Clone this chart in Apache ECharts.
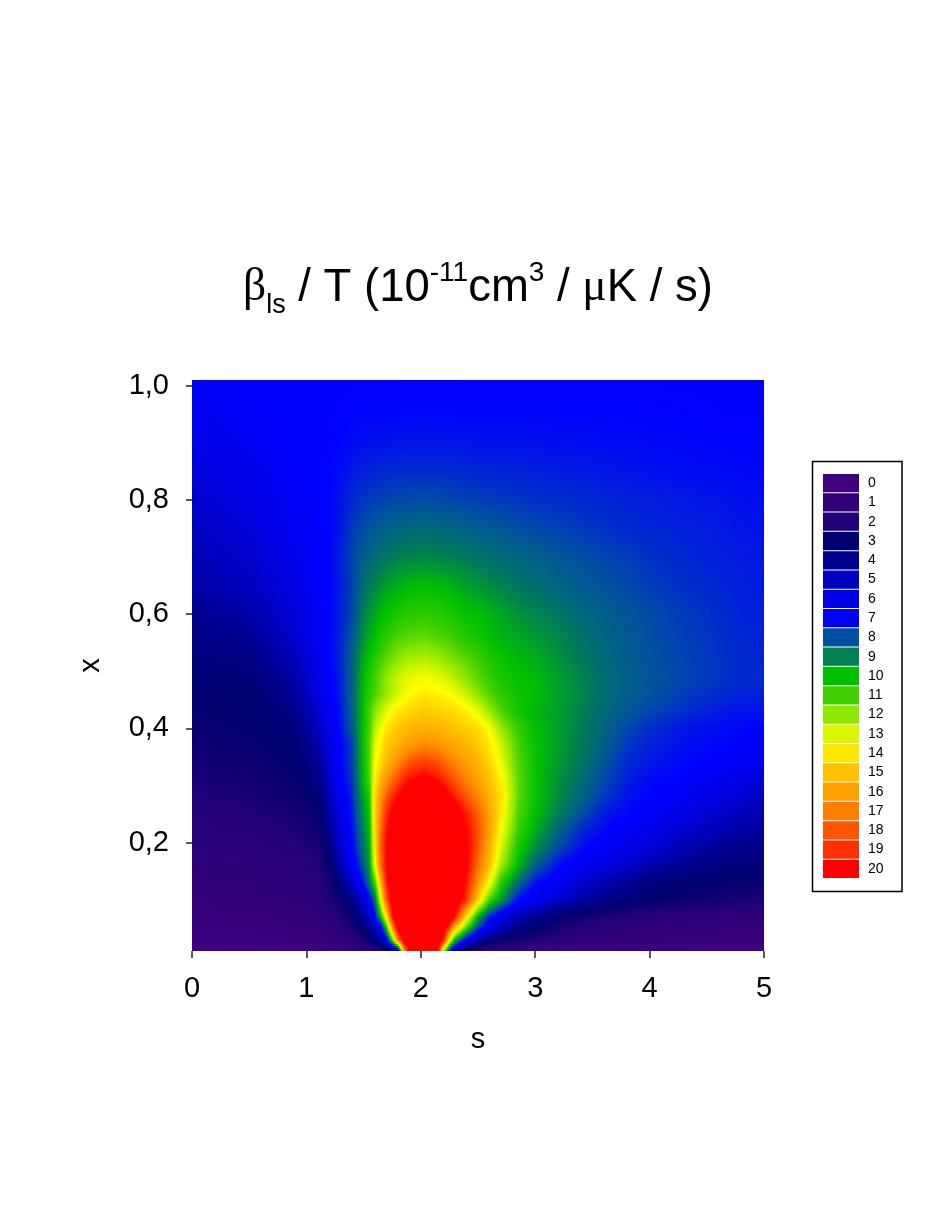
<!DOCTYPE html>
<html><head><meta charset="utf-8">
<style>html,body{margin:0;padding:0;background:#fff}#c{width:942px;height:1214px}</style>
<script src="https://cdn.jsdelivr.net/npm/echarts@6/dist/echarts.min.js"></script>
</head><body><div id="c"></div>
<script>
// s positions of the samples, x positions of the rows
const sValues=[0,.5,.9,1.1,1.2,1.3,1.4,1.5,1.55,1.6,1.65,1.7,1.75,1.8,1.85,1.9,2.03,2.15,2.2,2.25,2.3,2.4,2.5,2.6,2.7,2.85,3,3.2,3.4,3.6,3.8,4,4.25,4.5,4.75,5];
const xValues=[.01,.03,.05,.07,.1,.13,.16,.19,.22,.25,.28,.31,.34,.37,.4,.43,.46,.49,.52,.56,.6,.65,.7,.75,.8,.85,.9,.95,1.01];
const z001=[0,.05,.1,.2,.3,.4,.6,.9,1.1,1.4,1.7,2.2,3,5,15.5,20.5,22,20.3,12.5,7.5,4.5,2.5,1.6,1,.8,.5,.3,.2,.1,.1,.1,.1,.1,.1,.1,.1];
const z003=[.3,.35,.5,.6,.8,1.1,1.5,2.3,2.9,3.6,4.8,6.5,11,17,21,23,24,22,19.5,13.7,10,6.5,4.6,3.6,3,2.4,2,1.5,1.2,1,.9,.8,.7,.6,.55,.5];
const z005=[.45,.5,.7,.9,1.2,1.6,2.2,3.2,4,5,6.3,10.5,16,21,23,25,26,24,21,18.5,15,11,7.8,6,4.9,3.8,3.1,2.3,1.9,1.5,1.3,1.2,1.1,1,.9,.85];
const z007=[.6,.65,.9,1.2,1.5,2,2.8,4.1,5.3,6.8,10,14,19.5,22.5,24.5,26,27,25.5,24,22,19.6,14,9.8,7.3,6,4.7,3.9,3,2.5,2.1,1.8,1.6,1.45,1.3,1.2,1.15];
const z010=[.8,.9,1.2,1.6,2,2.7,3.8,5.5,6.8,8.6,13.3,18,21,23,25,26.5,28,27,25.5,24,22,18.8,14.5,11,9.4,7,6.3,5.2,4.5,3.9,3.4,3.05,2.7,2.5,2.3,2.2];
const z013=[1,1.1,1.4,1.6,2.3,3.7,5.3,7.3,8.8,11,15.5,19.5,21.5,23.5,25,27,29,27.5,26,25,23,19.7,16.5,13.6,10.7,8.6,7.2,6.6,5.4,4.7,4.1,3.6,3.2,3,2.85,2.75];
const z016=[1.2,1.3,1.65,1.9,2.9,4.7,6.4,8.3,9.5,13.5,17.5,20,21.5,23,24.5,26,28,27,26,24.5,23,20.2,17.5,15,12.3,10,8.3,7.2,6.5,5.9,5.3,4.7,4.1,3.7,3.4,3.2];
const z019=[1.4,1.6,1.9,2.2,3.5,5.3,6.9,8.7,9.8,14,17.8,20,21.5,23,24.5,26,28,27,26,24.5,23,20.3,18,15.6,13,10.4,9.2,7.9,7.2,6.6,6.1,5.5,4.8,4.3,3.9,3.7];
const z022=[1.6,1.8,2.1,2.5,4,5.7,7.1,9,10,14.3,17.6,19.7,21,22.5,23.8,25,27,26,25,23.8,22.5,20,18.2,16,13.5,10.9,9.7,8.4,7.5,7.1,6.5,6.1,5.4,4.9,4.5,4.2];
const z025=[1.8,2,2.3,2.8,4.4,6,7.3,9.3,10.2,14.5,17,19.1,20.4,21.7,22.8,23.7,25,24.3,23.5,22.5,21.5,19.4,17.8,15.9,14,11.2,10,9,8,7.3,7.1,6.6,6.1,5.4,5,4.6];
const z028=[2,2.2,2.6,3.2,4.8,6.4,7.5,9.6,10.5,14.4,16.3,18,19.1,20,20.8,21.7,23,22,21.2,20.2,19.4,18,16.8,15.5,14.2,11.4,10.1,9.2,8.4,7.7,7.2,7.05,6.6,6,5.5,5];
const z031=[2.2,2.4,2.8,3.7,5.2,6.8,7.7,10,11,13.8,15.3,16.5,17.5,18.3,19.2,19.8,20.5,19.8,19.2,18.5,17.9,16.9,15.9,15,13.8,11.4,10.1,9.3,8.6,7.9,7.4,7.1,7.03,6.5,6.1,5.5];
const z034=[2.4,2.6,3,4,5.5,7,7.8,10.1,11.2,13.5,14.3,15.3,16,16.7,17.5,18.1,18.7,18.2,17.7,17.2,16.8,16,15.4,14.5,13.3,11.3,10.1,9.4,8.8,8.1,7.5,7.3,7.1,7,6.6,6];
const z037=[2.6,2.8,3.2,4.5,5.8,7,7.8,10.2,11.2,13.1,13.8,14.7,15.1,15.4,15.8,16.1,16.6,16.4,16.2,16,15.8,15.3,14.8,14,12.8,11.1,10.1,9.5,8.9,8.3,7.7,7.4,7.2,7.1,7,6.5];
const z040=[2.7,2.9,3.4,5,6.2,7.2,8.2,10.2,11,12.5,13.3,14,14.4,14.8,15,15.2,15.5,15.4,15.2,15.1,14.9,14.6,14.3,13.4,12.1,10.8,10,9.5,8.9,8.4,7.9,7.6,7.3,7.15,7.12,6.95];
const z043=[2.85,2.95,3.8,5.4,6.5,7.3,8.3,10.1,11,11.9,12.5,13.1,13.6,14,14.2,14.4,14.7,14.5,14.4,14.3,14.2,13.8,13.2,12.1,11.2,10.3,9.8,9.5,9,8.5,8.15,7.9,7.6,7.4,7.25,7.2];
const z046=[3,3,4.2,5.7,6.7,7.4,8.4,10,10.6,11.1,11.6,12.1,12.5,12.9,13.2,13.55,14,13.8,13.7,13.6,13.3,12.7,11.9,11.2,10.7,10.2,10,9.5,9.1,8.6,8.3,8.05,7.8,7.6,7.45,7.4];
const z049=[3.2,3.3,4.5,6,6.85,7.4,8.4,9.9,10.4,11,11.5,12,12.4,12.7,13,13.1,13.3,13.1,12.9,12.7,12.4,11.9,11.3,10.8,10.3,10.1,9.9,9.5,9.05,8.6,8.3,8.1,7.9,7.7,7.55,7.5];
const z052=[3.4,3.6,4.8,6.2,7,7.5,8.3,9.7,10.1,10.6,11,11.4,11.7,12,12.2,12.4,12.5,12.3,12.1,11.9,11.7,11.3,10.9,10.5,10.2,9.9,9.7,9.3,8.9,8.5,8.25,8.05,7.85,7.7,7.55,7.45];
const z056=[3.7,4.1,5.3,6.5,7,7.45,8.1,9.3,9.7,10,10.4,10.6,10.9,11.1,11.2,11.3,11.4,11.2,11.1,11,10.8,10.5,10.3,10,9.8,9.6,9.4,9.1,8.7,8.4,8.2,8,7.8,7.65,7.5,7.4];
const z060=[4,4.5,5.6,6.6,7,7.4,7.9,9,9.3,9.6,9.9,10.1,10.2,10.4,10.5,10.6,10.7,10.6,10.5,10.4,10.3,10.1,10,9.8,9.6,9.3,9.1,8.8,8.5,8.3,8.1,7.95,7.75,7.6,7.45,7.35];
const z065=[4.4,5,5.9,6.8,7,7.35,7.8,8.6,8.9,9.1,9.3,9.5,9.6,9.7,9.8,9.9,10,9.9,9.85,9.8,9.7,9.5,9.35,9.2,9.05,8.8,8.6,8.4,8.2,8.05,7.9,7.75,7.6,7.5,7.4,7.3];
const z070=[4.7,5.3,6.2,6.95,7,7.4,7.85,8.3,8.4,8.55,8.7,8.8,8.9,9,9,9.05,9.1,9.05,9,9,8.95,8.85,8.75,8.65,8.55,8.4,8.3,8.15,8,7.85,7.75,7.6,7.5,7.4,7.35,7.25];
const z075=[5,5.6,6.5,7,7,7.3,7.7,7.95,8.05,8.15,8.2,8.3,8.35,8.4,8.4,8.45,8.5,8.45,8.4,8.4,8.35,8.3,8.2,8.15,8.1,8,7.9,7.8,7.7,7.6,7.5,7.45,7.4,7.35,7.25,7.2];
const z080=[5.3,5.9,6.7,7,7.05,7.25,7.5,7.65,7.7,7.75,7.8,7.85,7.87,7.9,7.9,7.92,7.95,7.92,7.9,7.9,7.85,7.8,7.8,7.75,7.7,7.65,7.6,7.55,7.5,7.45,7.4,7.35,7.3,7.25,7.2,7.15];
const z085=[5.7,6.2,6.9,7,7.02,7.15,7.3,7.4,7.42,7.45,7.47,7.5,7.52,7.54,7.55,7.55,7.55,7.55,7.54,7.53,7.5,7.48,7.46,7.44,7.42,7.4,7.37,7.33,7.3,7.27,7.23,7.2,7.15,7.12,7.1,7.07];
const z090=[6,6.5,7,7,7,7.05,7.12,7.17,7.18,7.19,7.2,7.21,7.22,7.23,7.23,7.24,7.25,7.24,7.24,7.23,7.23,7.22,7.21,7.2,7.2,7.19,7.18,7.16,7.15,7.13,7.12,7.1,7.08,7.06,7.04,7.03];
const z095=[6.3,6.8,7,7,7,7.01,7.03,7.05,7.05,7.06,7.06,7.07,7.07,7.07,7.08,7.08,7.08,7.08,7.08,7.08,7.07,7.07,7.07,7.07,7.06,7.06,7.06,7.05,7.05,7.04,7.04,7.03,7.02,7.01,7,7];
const z101=[6.6,6.95,7,7,7,7,7,7,7,7,7,7,7,7,7,7,7,7,7,7,7,7,7,7,7,7,7,7,7,7,7,7,7,7,7,7];
const zRows=[z001,z003,z005,z007,z010,z013,z016,z019,z022,z025,z028,z031,z034,z037,z040,z043,z046,z049,z052,z056,z060,z065,z070,z075,z080,z085,z090,z095,z101];
const legendLabels=['0','1','2','3','4','5','6','7','8','9','10','11','12','13','14','15','16','17','18','19','20'];
const legendColors=['#400080','#300078','#200078','#000070','#000090','#0000c0','#0000e8','#0000ff','#0050a0','#008050','#00c000','#40d000','#90e800','#dcf800','#ffe800','#ffc000','#ffa000','#ff8000','#ff5500','#ff3000','#ff0000'];
const xTicks=[.2,.4,.6,.8,1];

zRows.forEach((r,i)=>{if(r.length!==sValues.length)throw new Error('row '+i+' has '+r.length)});
if(zRows.length!==xValues.length)throw new Error('rows');

const rgb=h=>[parseInt(h.slice(1,3),16),parseInt(h.slice(3,5),16),parseInt(h.slice(5,7),16)];
const scale=legendColors.map((c,i)=>[i,rgb(c)]);
scale.splice(14,0,[13.6,[255,255,0]]);
function colorOf(v){
  v=Math.max(0,Math.min(20,v));
  for(let i=1;i<scale.length;i++){
    if(v<=scale[i][0]){
      const a=scale[i-1],b=scale[i],t=(v-a[0])/(b[0]-a[0]);
      return 'rgb('+[0,1,2].map(k=>Math.round(a[1][k]+(b[1][k]-a[1][k])*t)).join(',')+')';
    }
  }
  return '#ff0000';
}
function shade(params,api){
  const j=api.value(0);
  const lo=zRows[j],hi=zRows[j+1];
  const left=Math.round(api.coord([0,xValues[j]])[0]);
  const right=Math.round(api.coord([5,xValues[j]])[0]);
  const bottom=Math.round(api.coord([0,xValues[j]])[1]);
  const top=Math.round(api.coord([0,xValues[j+1]])[1]);
  const children=[];
  for(let y=top;y<bottom;y+=2){
    const t=(bottom-(y+1))/(bottom-top);
    const stops=[];
    for(let i=0;i<sValues.length-1;i++){
      const v0=lo[i]+(hi[i]-lo[i])*t,v1=lo[i+1]+(hi[i+1]-lo[i+1])*t;
      for(let k=0;k<4;k++){
        const f=k/4;
        stops.push({offset:(sValues[i]+(sValues[i+1]-sValues[i])*f)/5,color:colorOf(v0+(v1-v0)*f)});
      }
    }
    stops.push({offset:1,color:colorOf(lo[lo.length-1]+(hi[hi.length-1]-lo[hi.length-1])*t)});
    children.push({type:'rect',shape:{x:left,y:y,width:right-left,height:Math.min(2,bottom-y)},
      style:{fill:new echarts.graphic.LinearGradient(0,0,1,0,stops)}});
  }
  return {type:'group',children};
}
const font='"Liberation Sans",Arial,sans-serif';
const chart=echarts.init(document.getElementById('c'),null,{renderer:'canvas'});
const tw={fontWeight:'normal',color:'#000'};
chart.setOption({
  animation:false,
  backgroundColor:'#fff',
  title:{
    left:238,top:247,
    text:'{g|β}{sub|ls}{n| / T (10}{sup|-11}{n|cm}{sup|3}{n| / }{g|μ}{n|K / s)}',
    textStyle:{fontWeight:'normal',rich:{
      n:{...tw,fontFamily:font,fontSize:45.5,lineHeight:72,verticalAlign:'middle'},
      g:{...tw,fontFamily:'"Liberation Serif",serif',fontSize:45.5,lineHeight:72,verticalAlign:'middle'},
      sub:{...tw,fontFamily:font,fontSize:27,verticalAlign:'bottom',lineHeight:27,padding:[0,0,5,0]},
      sup:{...tw,fontFamily:font,fontSize:28,verticalAlign:'top',lineHeight:28,padding:[7,0,0,0]}
    }}
  },
  grid:[
    {left:192,top:380,width:572,height:571},
    {left:823,top:473.5,width:36,height:405}
  ],
  xAxis:[
    {gridIndex:0,type:'value',min:0,max:5,interval:1,name:'s',nameLocation:'middle',nameGap:74,
     nameTextStyle:{fontFamily:font,fontSize:29,color:'#000'},
     axisLine:{show:false},axisTick:{show:true,length:7,lineStyle:{color:'#222',width:1.5}},
     axisLabel:{fontFamily:font,fontSize:29,color:'#000',margin:23},splitLine:{show:false}},
    {gridIndex:1,type:'value',min:0,max:1,show:false}
  ],
  yAxis:[
    {gridIndex:0,type:'value',min:.01,max:1.01,name:'x',nameLocation:'middle',nameGap:87,
     nameTextStyle:{fontFamily:font,fontSize:29,color:'#000'},
     axisLine:{show:false},
     axisTick:{show:true,length:6,lineStyle:{color:'#222',width:1.5},customValues:xTicks},
     axisLabel:{fontFamily:font,fontSize:29,color:'#000',margin:23,customValues:xTicks,
       formatter:v=>Number(v).toFixed(1).replace('.',',')},
     splitLine:{show:false}},
    {gridIndex:1,type:'category',inverse:true,data:legendLabels,position:'right',
     axisLine:{show:false},axisTick:{show:false},
     axisLabel:{fontFamily:font,fontSize:14,color:'#000',margin:9,align:'left',interval:0}}
  ],
  series:[
    {type:'custom',coordinateSystem:'cartesian2d',xAxisIndex:0,yAxisIndex:0,silent:true,clip:true,
     renderItem:shade,dimensions:['row'],encode:{y:1},
     data:xValues.slice(0,-1).map((x,j)=>[j,x])},
    {type:'bar',xAxisIndex:1,yAxisIndex:1,silent:true,barWidth:18.3,
     data:legendColors.map(c=>({value:1,itemStyle:{color:c}}))}
  ],
  graphic:[{type:'rect',z:-1,shape:{x:812.5,y:461.5,width:89.5,height:430},style:{fill:'#fff',stroke:'#000',lineWidth:1.5}}]
});
</script></body></html>
